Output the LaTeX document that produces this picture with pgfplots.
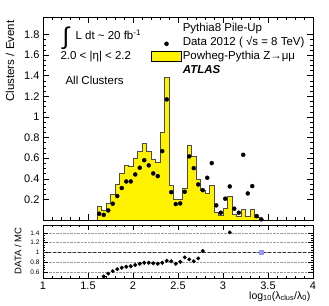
\documentclass[border=0pt]{standalone}
\usepackage{fontspec}
\setmainfont{Liberation Sans}
\usepackage{pgfplots}
\pgfplotsset{compat=1.18}
\newcommand\fs[1]{\fontsize{#1}{#1}\selectfont}
\begin{document}
\begin{tikzpicture}
\path[use as bounding box] (-43pt,-85pt) rectangle (286pt,220pt);
\begin{axis}[
  at={(0pt,0pt)}, anchor=south west,
  scale only axis, width=270pt, height=203pt,
  xmin=1, xmax=4, ymin=0, ymax=1.97,
  xtick={1,1.5,...,4}, minor x tick num=4, xticklabels={},
  ytick={0.2,0.4,0.6,0.8,1,1.2,1.4,1.6,1.8}, minor y tick num=3,
  yticklabels={0.2,0.4,0.6,0.8,1,1.2,1.4,1.6,1.8},
  tick align=inside, major tick length=6pt, minor tick length=3pt,
  tick style={black, line width=0.5pt},
  axis line style={black, line width=0.6pt},
  /pgf/number format/assume math mode=true,
  tick label style={font=\fs{11}},
  legend style={at={(0.4,0.975)}, anchor=north west, draw=none, fill=none,
    font=\fs{11.5}, inner sep=0pt, row sep=1pt,
    nodes={inner sep=1pt, text height=8.5pt, text depth=2.5pt},
    /tikz/every even column/.append style={column sep=3pt}},
  legend cell align=left,
]
\addlegendimage{empty legend}
\addlegendentry{Pythia8 Pile-Up}
\addlegendimage{legend image code/.code={\draw[black, only marks, mark=*, mark size=2pt, mark repeat=2, mark phase=2] plot coordinates {(0pt,-1pt) (15pt,-1pt) (30pt,-1pt)};}}
\addlegendentry{Data 2012 ( √s = 8 TeV)}
\addlegendimage{legend image code/.code={\draw[fill=yellow, draw=black, line width=0.6pt] (0pt,-5pt) rectangle (30pt,5pt);}}
\addlegendentry{Powheg-Pythia Z→μμ}
\addlegendimage{empty legend}
\addlegendentry{\textbf{\textit{ATLAS}}}
\addplot[const plot, fill=yellow, draw=black!70, line width=0.7pt] table {
1.60 0.135
1.65 0.090
1.70 0.160
1.75 0.250
1.80 0.350
1.85 0.455
1.90 0.535
1.95 0.525
2.00 0.595
2.05 0.665
2.10 0.745
2.15 0.670
2.20 0.590
2.25 0.555
2.30 0.850
2.35 1.385
2.40 0.335
2.45 0.205
2.50 0.205
2.55 0.310
2.60 0.720
2.65 0.613
2.70 0.395
2.75 0.285
2.80 0.255
2.85 0.335
2.90 0.070
2.95 0.045
3.00 0.110
3.05 0.232
3.10 0.054
3.15 0.032
3.20 0.103
3.25 0.032
3.30 0.103
3.35 0.030
3.40 0.010
3.45 0.010
} \closedcycle;
\addplot[only marks, mark=*, mark size=2pt, black] table {
1.625 0.061
1.675 0.050
1.725 0.093
1.775 0.158
1.825 0.232
1.875 0.310
1.925 0.374
1.975 0.374
2.025 0.442
2.075 0.507
2.125 0.580
2.175 0.530
2.225 0.452
2.275 0.426
2.325 0.668
2.375 1.170
2.425 0.270
2.475 0.154
2.525 0.161
2.575 0.274
2.625 0.617
2.675 0.503
2.725 0.345
2.775 0.290
2.825 0.410
2.875 0.552
2.925 0.142
2.975 0.071
3.025 0.207
3.075 0.326
3.125 0.110
3.175 0.071
3.225 0.633
3.275 0.258
3.325 0.329
3.375 0.038
3.425 0.006
};
\end{axis}
\node[font=\fs{24}] at (23pt,182pt) {∫};
\node[anchor=west, font=\fs{11.5}] at (29pt,185pt) {L dt \textasciitilde{} 20 fb\textsuperscript{-1}};
\node[anchor=west, font=\fs{11.5}] at (14pt,163pt) {2.0 < |η| < 2.2};
\node[anchor=west, font=\fs{11.5}] at (19pt,140pt) {All Clusters};
\node[rotate=90, anchor=east, font=\fs{11.5}] at (-33pt,203pt) {Clusters / Event};
\begin{axis}[
  at={(0pt,-5pt)}, anchor=north west,
  scale only axis, width=270pt, height=53pt,
  xmin=1, xmax=4, ymin=0.48, ymax=1.56,
  xtick={1,1.5,...,4}, minor x tick num=4,
  xticklabels={1,1.5,2,2.5,3,3.5,4},
  ytick={0.6,0.8,1,1.2,1.4}, minor y tick num=3,
  yticklabels={0.6,0.8,1,1.2,1.4},
  ymajorgrids, grid style={densely dotted, black!40, line width=0.4pt},
  tick align=inside, major tick length=5pt, minor tick length=2.5pt,
  tick style={black, line width=0.5pt},
  axis line style={black, line width=0.6pt},
  /pgf/number format/assume math mode=true,
  xticklabel style={font=\fs{11}},
  yticklabel style={font=\fs{6.5}},
]
\addplot[black!80, densely dashed, line width=0.6pt] coordinates {(1,1) (4,1)};
\addplot[only marks, mark=*, mark size=1.8pt, black] table {
1.675 0.51
1.725 0.57
1.775 0.62
1.825 0.66
1.875 0.69
1.925 0.71
1.975 0.72
2.025 0.745
2.075 0.77
2.125 0.79
2.175 0.79
2.225 0.78
2.275 0.77
2.325 0.79
2.375 0.83
2.425 0.82
2.475 0.77
2.525 0.81
2.575 0.90
2.625 0.86
2.675 0.82
2.725 0.88
2.775 1.03
3.075 1.41
};
\addplot[only marks, mark=square*, mark size=2pt, color={rgb,255:red,150;green,150;blue,255}] coordinates {(3.425,1.0)};
\end{axis}
\node[rotate=90, font=\fs{9.5}] at (-25pt,-31pt) {DATA / MC};
\node[anchor=east, font=\fs{10.5}] at (271pt,-76.5pt) {log\textsubscript{10}(λ\textsubscript{clus}/λ\textsubscript{0})};
\end{tikzpicture}
\end{document}
